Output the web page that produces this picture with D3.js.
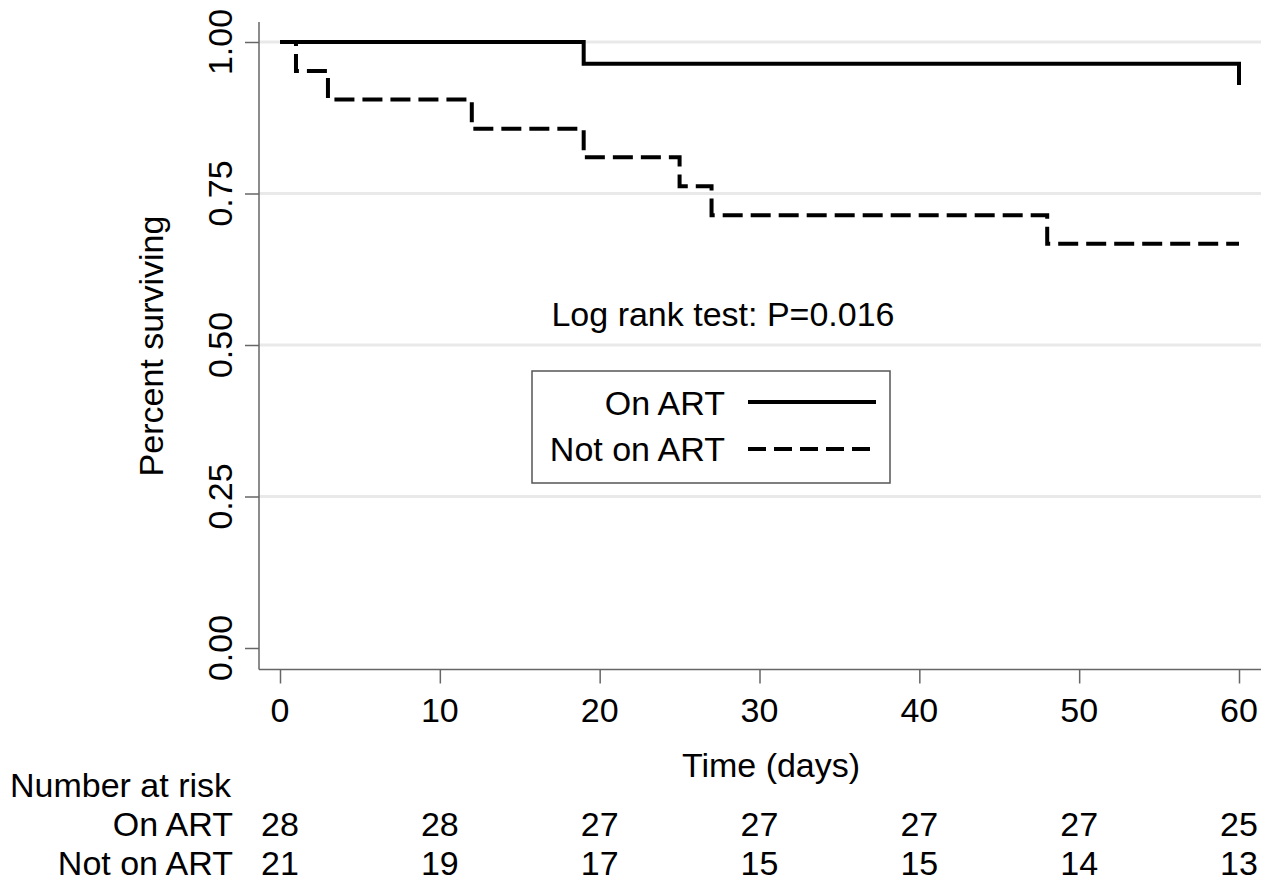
<!DOCTYPE html>
<html>
<head>
<meta charset="utf-8">
<script src="https://cdn.jsdelivr.net/npm/d3@7"></script>
<style>
  html, body { margin: 0; padding: 0; background: #fff; }
  svg text { font-family: "Liberation Sans", Arial, sans-serif; fill: #000; }
</style>
</head>
<body>
<svg id="chart" width="1281" height="884"></svg>
<script>
// ---- data ----
const groups = ["On ART", "Not on ART"];
const onArtTimes = [0, 19, 60];
const onArtSurv = [1.0, 0.964, 0.929];
const notOnArtTimes = [0, 1, 3, 12, 19, 25, 27, 48, 60];
const notOnArtSurv = [1.0, 0.952, 0.905, 0.857, 0.810, 0.762, 0.714, 0.667, 0.667];
const xTicks = [0, 10, 20, 30, 40, 50, 60];
const yTicks = [0, 0.25, 0.5, 0.75, 1.0];
const yTickLabels = ["0.00", "0.25", "0.50", "0.75", "1.00"];
const gridValues = [0.25, 0.5, 0.75, 1.0];
const riskOnArt = [28, 28, 27, 27, 27, 27, 25];
const riskNotOnArt = [21, 19, 17, 15, 15, 14, 13];
const annotation = "Log rank test: P=0.016";

// ---- layout ----
const svg = d3.select("#chart");
const FS = 34;
const x = d3.scaleLinear().domain([0, 60]).range([280, 1239]);
const y = d3.scaleLinear().domain([0, 1]).range([648, 42]);
const axisX = 259, axisY = 669.5, plotRight = 1261;
const axisColor = "#666";

// gridlines
svg.append("g").selectAll("line").data(gridValues).join("line")
  .attr("x1", axisX).attr("x2", plotRight)
  .attr("y1", d => y(d)).attr("y2", d => y(d))
  .attr("stroke", "#e9e9e9").attr("stroke-width", 3);

// y axis
const yAxis = svg.append("g").attr("transform", `translate(${axisX},0)`)
  .call(d3.axisLeft(y).tickValues(yTicks).tickSize(14).tickFormat(""));
yAxis.select(".domain").remove();
yAxis.selectAll(".tick line").attr("stroke", axisColor).attr("stroke-width", 1.5);
svg.append("line").attr("x1", axisX).attr("x2", axisX).attr("y1", 22).attr("y2", axisY)
  .attr("stroke", axisColor).attr("stroke-width", 1.5);
svg.append("g").selectAll("text").data(yTicks).join("text")
  .attr("transform", d => `translate(232,${y(d)}) rotate(-90)`)
  .attr("text-anchor", "middle").attr("font-size", FS)
  .text((d, i) => yTickLabels[i]);

// x axis
const xAxis = svg.append("g").attr("transform", `translate(0,${axisY})`)
  .call(d3.axisBottom(x).tickValues(xTicks).tickSize(14).tickFormat(""));
xAxis.select(".domain").remove();
xAxis.selectAll(".tick line").attr("stroke", axisColor).attr("stroke-width", 1.5);
svg.append("line").attr("x1", axisX).attr("x2", plotRight).attr("y1", axisY).attr("y2", axisY)
  .attr("stroke", axisColor).attr("stroke-width", 1.5);
svg.append("g").selectAll("text").data(xTicks).join("text")
  .attr("x", d => x(d)).attr("y", 722)
  .attr("text-anchor", "middle").attr("font-size", FS)
  .text(d => d);

// axis titles
svg.append("text").attr("x", 771).attr("y", 777).attr("text-anchor", "middle")
  .attr("font-size", FS).text("Time (days)");
svg.append("text").attr("transform", "translate(163,346) rotate(-90)")
  .attr("text-anchor", "middle").attr("font-size", FS).text("Percent surviving");

// curves
const line = d3.line().x(d => x(d[0])).y(d => y(d[1])).curve(d3.curveStepAfter);
const onArt = onArtTimes.map((t, i) => [t, onArtSurv[i]]);
const notOnArt = notOnArtTimes.map((t, i) => [t, notOnArtSurv[i]]);
svg.append("path").datum(onArt).attr("d", line)
  .attr("fill", "none").attr("stroke", "#000").attr("stroke-width", 4);
svg.append("path").datum(notOnArt).attr("d", line)
  .attr("fill", "none").attr("stroke", "#000").attr("stroke-width", 4)
  .attr("stroke-dasharray", "20,8");

// annotation
svg.append("text").attr("x", 723).attr("y", 326).attr("text-anchor", "middle")
  .attr("font-size", FS).text(annotation);

// legend
svg.append("rect").attr("x", 532).attr("y", 371).attr("width", 358).attr("height", 112)
  .attr("fill", "#fff").attr("stroke", "#555").attr("stroke-width", 1.5);
const legY = [402, 449];
const legText = [415, 461];
groups.forEach((g, i) => {
  svg.append("text").attr("x", 725).attr("y", legText[i]).attr("text-anchor", "end")
    .attr("font-size", FS).text(g);
  svg.append("line").attr("x1", 748).attr("x2", 876).attr("y1", legY[i]).attr("y2", legY[i])
    .attr("stroke", "#000").attr("stroke-width", 4)
    .attr("stroke-dasharray", i === 1 ? "18,8" : null);
});

// number at risk table
svg.append("text").attr("x", 10).attr("y", 797).attr("font-size", FS).text("Number at risk");
const rows = [riskOnArt, riskNotOnArt];
const rowY = [836, 875];
rows.forEach((r, i) => {
  svg.append("text").attr("x", 233).attr("y", rowY[i]).attr("text-anchor", "end")
    .attr("font-size", FS).text(groups[i]);
  svg.append("g").selectAll("text").data(r).join("text")
    .attr("x", (d, j) => x(xTicks[j])).attr("y", rowY[i])
    .attr("text-anchor", "middle").attr("font-size", FS).text(d => d);
});
</script>
</body>
</html>
